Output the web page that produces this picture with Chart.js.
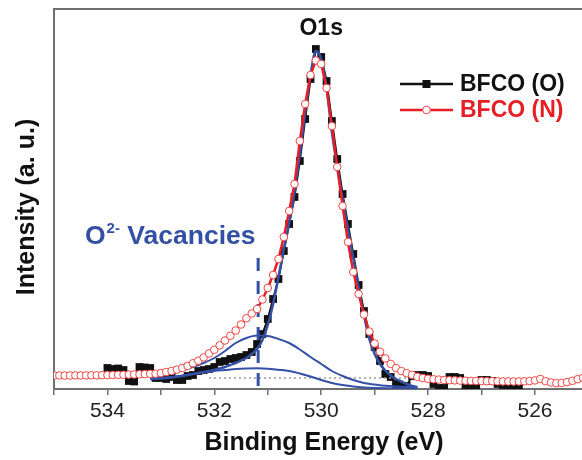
<!DOCTYPE html>
<html>
<head>
<meta charset="utf-8">
<title>O1s XPS</title>
<script src="https://cdn.jsdelivr.net/npm/chart.js@4.4.1/dist/chart.umd.min.js"></script>
<style>
  html, body { margin: 0; padding: 0; background: #fff; }
  canvas { display: block; }
</style>
</head>
<body>
<canvas id="xps" width="582" height="460"></canvas>
<script>
// Binding energy (eV) and intensity (a.u.) for the two samples
const energyN = [
  535.0, 534.9, 534.8, 534.7, 534.6, 534.5, 534.4, 534.3, 534.2, 534.1,
  534.0, 533.9, 533.8, 533.7, 533.6, 533.5, 533.4, 533.3, 533.2, 533.1,
  533.0, 532.9, 532.8, 532.7, 532.6, 532.5, 532.4, 532.3, 532.2, 532.1,
  532.0, 531.9, 531.8, 531.7, 531.6, 531.5, 531.4, 531.3, 531.2, 531.1,
  531.0, 530.9, 530.8, 530.7, 530.6, 530.5, 530.4, 530.3, 530.2, 530.1,
  530.0, 529.9, 529.8, 529.7, 529.6, 529.5, 529.4, 529.3, 529.2, 529.1,
  529.0, 528.9, 528.8, 528.7, 528.6, 528.5, 528.4, 528.3, 528.2, 528.1,
  528.0, 527.9, 527.8, 527.7, 527.6, 527.5, 527.4, 527.3, 527.2, 527.1,
  527.0, 526.9, 526.8, 526.7, 526.6, 526.5, 526.4, 526.3, 526.2, 526.1,
  526.0, 525.9, 525.8, 525.7, 525.6, 525.5, 525.4, 525.3, 525.2, 525.1
];
const intensityN = [
  13.5, 13.5, 13.4, 13.5, 13.6, 13.5, 13.6, 13.7, 13.7, 13.8,
  13.9, 14.0, 14.1, 14.2, 14.4, 14.5, 14.7, 14.9, 15.1, 15.3,
  16.0, 17.0, 18.0, 19.4, 21.1, 23.1, 25.7, 28.3, 31.6, 35.5,
  39.2, 43.6, 48.5, 53.2, 58.5, 64.5, 70.7, 75.5, 80.0, 89.5,
  101, 114, 130, 152, 178, 205, 248, 285, 314, 328.5,
  325, 301, 263, 222, 183, 147, 117, 95, 74.5, 57.5,
  45.5, 37.3, 30.6, 25.1, 20.9, 17.9, 15.8, 14.1, 12.2, 11.0,
  10.2, 9.8, 9.4, 9.0, 8.8, 8.6, 8.4, 8.3, 8.1, 8.0,
  7.9, 7.8, 7.8, 7.7, 7.6, 7.6, 7.5, 7.6, 7.7, 8.0,
  8.6, 10.0, 7.8, 6.5, 5.8, 6.0, 6.9, 8.2, 9.8, 11.2
];

const energyO = [
  534.0, 533.9, 533.8, 533.7, 533.6, 533.5, 533.4, 533.3, 533.2, 533.1,
  533.0, 532.9, 532.8, 532.7, 532.6, 532.5, 532.4, 532.3, 532.2, 532.1,
  532.0, 531.9, 531.8, 531.7, 531.6, 531.5, 531.4, 531.3, 531.2, 531.1,
  531.0, 530.9, 530.8, 530.7, 530.6, 530.5, 530.4, 530.3, 530.2, 530.1,
  530.0, 529.9, 529.8, 529.7, 529.6, 529.5, 529.4, 529.3, 529.2, 529.1,
  529.0, 528.9, 528.8, 528.7, 528.6, 528.5, 528.4, 528.3, 528.2, 528.1,
  528.0, 527.9, 527.8, 527.7, 527.6, 527.5, 527.4, 527.3, 527.2, 527.1,
  527.0, 526.9, 526.8, 526.7, 526.6, 526.5, 526.4, 526.3
];
const intensityO = [
  21, 20, 20.5, 19, 8, 7.5, 22, 21.5, 21, 11,
  11, 10, 12, 9, 9, 13, 14, 18, 19, 20,
  22, 27, 28, 30, 31, 32, 34, 37, 45, 55,
  70, 90, 110, 138, 165, 192, 228, 270, 310, 340,
  332, 308, 268, 230, 195, 165, 135, 104, 78, 55,
  42, 28, 15, 12, 5, 3, 3, 13, 14, 14,
  13, 5, 1, 1, 12, 12, 11, 3, 3, 3,
  9, 9, 8, 5, 4, 1, 0, 1
];

// Peak fit: envelope and the two components under the shoulder
const energyFit = [
  533.2, 533.1, 533.0, 532.9, 532.8, 532.7, 532.6, 532.5, 532.4, 532.3,
  532.2, 532.1, 532.0, 531.9, 531.8, 531.7, 531.6, 531.5, 531.4, 531.3,
  531.2, 531.1, 531.0, 530.9, 530.8, 530.7, 530.6, 530.5, 530.4, 530.3,
  530.2, 530.1, 530.0, 529.9, 529.8, 529.7, 529.6, 529.5, 529.4, 529.3,
  529.2, 529.1, 529.0, 528.9, 528.8, 528.7, 528.6, 528.5, 528.4, 528.3,
  528.2
];
const fitTotal = [
  10, 10.3, 10.6, 11, 11.6, 12.3, 13, 14, 15, 16,
  17, 18, 19, 20.5, 22, 24, 26, 28.5, 31, 35,
  40, 49, 64, 85, 112, 140, 166, 197, 235, 276,
  314, 338, 330, 301, 257, 222, 190, 160, 131, 101,
  74, 50, 35, 25, 18.5, 13.5, 10, 7.5, 5, 3,
  2
];

const energyComp = [
  533.2, 533.0, 532.8, 532.6, 532.4, 532.2, 532.0, 531.8, 531.6, 531.4,
  531.2, 531.0, 530.8, 530.6, 530.4, 530.2, 530.0, 529.8, 529.6, 529.4,
  529.2, 529.0, 528.8, 528.6, 528.4, 528.2
];
const broadComp = [
  11, 13, 15.5, 18.5, 22, 26, 31, 38, 46, 51,
  53.5, 53, 50, 46, 39.5, 32, 25, 18, 13, 9,
  6, 4.5, 3.2, 2.5, 2, 1.8
];
const smallComp = [
  10, 11, 12, 13.5, 15, 16.5, 18, 19, 20, 20.5,
  20.7, 20.3, 19.2, 18, 15.5, 12.5, 9, 6, 4, 2.5,
  1.6, 1.1, 0.8, 0.6, 0.5, 0.5
];

const baselineEnergy = [532.1, 528.4];
const baselineLevel = [11, 11];

const vacancyEnergy = 531.18;
const vacancyTop = 131;

const xTicks = [534, 532, 530, 528, 526];

const RED = '#e61e25';
const BLUE = '#3350a5';
const FONT = '"Liberation Sans", Arial, Helvetica, sans-serif';

function toPoints(xs, ys) {
  return xs.map((x, i) => ({ x: x, y: ys[i] }));
}

// frame top edge, axis titles, in-plot labels and the legend
const decorations = {
  id: 'decorations',
  afterDraw(chart) {
    const { ctx, chartArea: area, scales: { x } } = chart;
    ctx.save();

    ctx.strokeStyle = '#707070';
    ctx.lineWidth = 2;
    ctx.beginPath();
    ctx.moveTo(area.left - 1, area.top);
    ctx.lineTo(area.right, area.top);
    ctx.stroke();

    ctx.fillStyle = '#111';
    ctx.textAlign = 'center';
    ctx.textBaseline = 'alphabetic';
    ctx.font = 'bold 23px ' + FONT;
    ctx.fillText('O1s', x.getPixelForValue(530.0), 35);

    ctx.font = 'bold 25px ' + FONT;
    ctx.fillText('Binding Energy (eV)', 324, 450);

    ctx.save();
    ctx.translate(33.5, 207);
    ctx.rotate(-Math.PI / 2);
    ctx.font = 'bold 25px ' + FONT;
    ctx.fillText('Intensity (a. u.)', 0, 0);
    ctx.restore();

    // O2- vacancies label with a raised charge
    ctx.fillStyle = BLUE;
    ctx.textAlign = 'left';
    let tx = 85;
    ctx.font = 'bold 26.5px ' + FONT;
    ctx.fillText('O', tx, 244);
    tx += ctx.measureText('O').width + 1;
    ctx.font = 'bold 15px ' + FONT;
    ctx.fillText('2-', tx, 233);
    tx += ctx.measureText('2-').width;
    ctx.font = 'bold 26.5px ' + FONT;
    ctx.fillText(' Vacancies', tx, 244);

    // legend
    const rows = [
      { label: 'BFCO (O)', y: 84, color: '#111', marker: 'rect' },
      { label: 'BFCO (N)', y: 110, color: RED, marker: 'circle' }
    ];
    rows.forEach(r => {
      ctx.strokeStyle = r.color;
      ctx.lineWidth = 2.5;
      ctx.beginPath();
      ctx.moveTo(400, r.y);
      ctx.lineTo(453, r.y);
      ctx.stroke();
      if (r.marker === 'rect') {
        ctx.fillStyle = '#111';
        ctx.fillRect(422.5, r.y - 4, 8, 8);
      } else {
        ctx.fillStyle = '#fff';
        ctx.strokeStyle = '#f04848';
        ctx.lineWidth = 1;
        ctx.beginPath();
        ctx.arc(426.5, r.y, 3.8, 0, Math.PI * 2);
        ctx.fill();
        ctx.stroke();
      }
      ctx.fillStyle = r.color;
      ctx.font = 'bold 23px ' + FONT;
      ctx.textBaseline = 'middle';
      ctx.fillText(r.label, 460, r.y + 1);
    });

    ctx.restore();
  }
};

const canvas = document.getElementById('xps');
new Chart(canvas.getContext('2d'), {
  type: 'line',
  data: {
    datasets: [
      {
        label: 'BFCO (N)',
        data: toPoints(energyN, intensityN),
        borderColor: RED,
        borderWidth: 2.5,
        pointStyle: 'circle',
        pointRadius: 3.8,
        pointBorderWidth: 1,
        pointBorderColor: '#f04848',
        pointBackgroundColor: '#fff',
        order: 0
      },
      {
        label: 'Fit',
        data: toPoints(energyFit, fitTotal),
        borderColor: BLUE,
        borderWidth: 2.5,
        pointRadius: 0,
        cubicInterpolationMode: 'monotone',
        order: 1
      },
      {
        label: 'Vacancy component',
        data: toPoints(energyComp, broadComp),
        borderColor: BLUE,
        borderWidth: 2,
        pointRadius: 0,
        cubicInterpolationMode: 'monotone',
        order: 2
      },
      {
        label: 'Minor component',
        data: toPoints(energyComp, smallComp),
        borderColor: BLUE,
        borderWidth: 2,
        pointRadius: 0,
        cubicInterpolationMode: 'monotone',
        order: 3
      },
      {
        label: 'Background',
        data: toPoints(baselineEnergy, baselineLevel),
        borderColor: '#9a9a9a',
        borderWidth: 1.5,
        borderDash: [2, 3],
        pointRadius: 0,
        order: 4
      },
      {
        label: 'Vacancy position',
        data: [{ x: vacancyEnergy, y: vacancyTop }, { x: vacancyEnergy, y: 0 }],
        borderColor: BLUE,
        borderWidth: 3,
        borderDash: [13, 10],
        pointRadius: 0,
        order: 1
      },
      {
        label: 'BFCO (O)',
        data: toPoints(energyO, intensityO),
        borderColor: '#111',
        backgroundColor: '#111',
        borderWidth: 2,
        pointStyle: 'rect',
        pointRadius: 5.5,
        pointBorderWidth: 0,
        order: 6
      }
    ]
  },
  options: {
    responsive: false,
    animation: false,
    events: [],
    layout: { autoPadding: false, padding: { left: 54, top: 9, right: 0, bottom: 0 } },
    plugins: {
      legend: { display: false },
      tooltip: { enabled: false }
    },
    scales: {
      x: {
        type: 'linear',
        reverse: true,
        min: 525.12,
        max: 535,
        ticks: {
          stepSize: 1,
          includeBounds: false,
          autoSkip: false,
          maxRotation: 0,
          padding: 4,
          color: '#222',
          font: { family: FONT, size: 21 },
          callback: v => (xTicks.includes(v) ? String(v) : '')
        },
        grid: { drawOnChartArea: false, tickLength: 6, color: '#707070', lineWidth: 1.5 },
        border: { color: '#707070', width: 2 },
        afterFit(scale) {
          scale.height = 71;
          // plot runs right up to the canvas edge
          scale.paddingLeft = 0;
          scale.paddingRight = 0;
        }
      },
      y: {
        min: 0,
        max: 380,
        ticks: { display: false },
        grid: { display: false },
        border: { color: '#707070', width: 2 },
        afterFit(scale) { scale.width = 0; }
      }
    }
  },
  plugins: [decorations]
});
</script>
</body>
</html>
